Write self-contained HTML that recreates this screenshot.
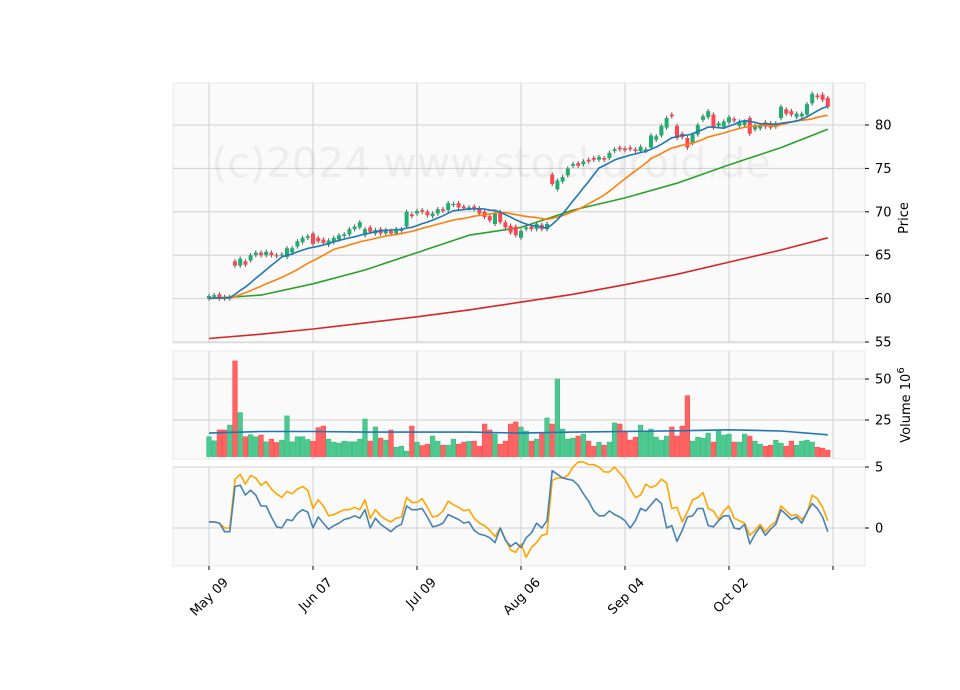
<!DOCTYPE html>
<html><head><meta charset="utf-8"><style>
body{margin:0;background:#fff;}
svg{display:block;font-family:"DejaVu Sans","Liberation Sans",sans-serif;}
</style></head><body>
<svg id="chart" width="960" height="690" viewBox="0 0 960 690" xmlns="http://www.w3.org/2000/svg">
<rect width="960" height="690" fill="#fff"/>
<g id="panels"></g>
<text x="491" y="177" font-size="41" fill="#000" fill-opacity="0.05" text-anchor="middle">(c)2024 www.stockdroid.de</text>
<g id="marks"></g>
</svg>
<script>
const xLabels=["May 09","Jun 07","Jul 09","Aug 06","Sep 04","Oct 02",""];
const xTickIdx=[0,20,40,60,80,100,120];
const priceTicks=[55,60,65,70,75,80];
const volTicks=[25,50];
const indTicks=[0,5];
const priorCloses=[60.0,60.1,59.9,60.0,60.1,60.0,59.9,60.0,60.1,60.0,59.9,60.0,60.1,60.0,59.9,60.0,60.1,60.0,60.0];
const opens=[60.0,60.2,60.5,60.2,60.0,64.3,63.8,64.3,64.4,65.0,65.3,65.0,65.3,65.0,65.0,64.8,65.3,66.0,66.5,67.0,
67.5,67.0,66.8,66.2,66.5,66.8,67.2,67.4,68.0,68.2,67.3,68.2,67.5,68.0,67.5,67.8,67.5,67.8,68.3,69.7,
69.8,70.2,70.0,69.5,69.8,70.3,70.2,70.8,71.0,70.6,70.4,70.6,70.4,70.0,69.5,68.6,70.0,68.8,68.4,68.3,
67.0,68.0,68.3,68.0,68.5,68.0,74.3,72.6,73.5,74.2,75.3,75.6,75.5,76.0,76.2,76.0,76.2,76.2,77.0,77.4,
77.3,77.4,77.2,77.0,77.0,77.4,78.3,78.8,79.7,81.2,79.9,79.0,78.5,77.9,78.9,80.6,80.9,81.2,79.9,79.8,
80.3,80.7,79.9,80.0,80.8,79.5,79.6,80.3,80.2,79.8,80.8,81.8,81.6,80.9,81.0,81.2,82.5,83.4,83.5,83.1];
const closes=[60.3,60.4,60.0,60.0,60.2,63.8,64.6,63.9,65.0,65.3,65.0,65.4,65.0,64.9,65.1,65.8,65.8,66.6,67.0,67.2,
66.3,66.6,66.4,66.7,67.0,67.3,67.4,68.0,68.3,68.8,68.0,67.7,67.9,67.5,67.9,67.5,68.0,68.0,70.0,69.5,
70.1,70.0,69.6,69.8,70.3,70.1,71.0,70.9,70.5,70.4,70.5,70.3,69.8,69.4,69.0,69.9,68.8,68.2,67.6,67.3,
67.8,68.2,68.0,68.6,68.0,68.6,73.2,73.6,74.0,75.0,75.5,75.3,75.8,75.8,76.0,76.3,76.0,76.8,77.2,77.2,
77.1,77.2,77.0,77.5,77.2,78.8,78.7,79.9,80.8,81.0,78.5,78.6,77.4,78.9,80.0,81.0,81.6,79.7,80.2,80.4,
80.9,80.5,80.4,80.4,79.0,79.9,80.0,79.8,79.7,80.2,82.1,81.3,81.2,81.3,81.3,82.4,83.6,83.2,82.9,82.1];
const volumes=[14.8,12.3,18.9,18.9,21.9,61,29.5,14.8,16,14.8,15.8,11.7,13.3,11.3,12.7,27.5,11.7,14.8,14.8,13.1,12,
20.3,21.3,13.3,11.5,10.9,12.1,11.7,11.7,13.3,25.6,12.1,20.7,13.9,12.7,18.9,8.4,9,6,21.3,11.5,
9.4,10.2,15.2,12.1,9.6,9.6,13.3,10.2,11.5,12,12.1,9,22.5,18.9,16.4,10.2,12.1,22.5,23.8,20.7,18.2,
12.1,13.3,17,26.2,22.5,50,19.5,13.3,13.9,15.2,16.4,12.1,9,11.5,9.6,11.5,23.2,22.5,18.4,12.7,
14.5,21.9,17.6,19.5,14.5,12.7,15.2,20.7,15.2,21.3,39.8,12.1,14.5,13.9,17,11.5,18.9,15.8,16.4,11.5,
11.5,16.4,15.2,12.1,10.2,9,9.6,12.7,10.9,9,12.1,9.6,12.1,12.7,11.5,8.4,7.8,6.6];
const volMA=[17,18,18,17.6,17.6,17.6,17,17.6,18,18.4,19,18.3,16];
const maGreen=[60.0,60.4,61.7,63.3,65.3,67.3,68.2,70.2,71.6,73.3,75.4,77.4,79.5];
const maRed=[55.4,55.9,56.5,57.2,57.9,58.7,59.6,60.5,61.6,62.8,64.2,65.6,67.0];
const indOrange=[0.5,0.5,0.4,0,0,4.0,4.4,3.6,4.3,4.1,3.5,3.8,3.2,2.8,2.5,3.0,2.8,3.2,3.4,3.1,
1.6,2.3,1.8,1.0,1.1,1.3,1.5,1.5,1.7,1.5,2.3,0.8,1.5,1.0,0.7,0.5,0.8,0.9,2.5,2.1,
2.1,2.4,1.7,0.9,1.0,1.4,2.2,1.9,1.7,1.4,1.5,0.8,0.4,0.2,-0.2,-0.7,0.0,-0.9,-1.8,-2.0,
-1.3,-2.4,-1.6,-1.2,-0.6,-0.5,3.9,4.1,4.1,4.3,5.0,5.4,5.4,5.2,5.2,5.0,4.6,4.6,5.0,4.5,
4.0,3.2,2.5,2.7,3.6,3.3,3.5,4.0,3.7,1.6,1.7,0.5,1.3,2.3,2.5,2.9,1.6,1.4,0.7,1.4,
1.8,0.8,0.6,0.4,-0.6,-0.2,0.3,-0.3,0.2,0.5,1.8,1.4,1.0,1.1,0.7,1.2,2.7,2.4,1.7,0.6];
const indBlue=[0.5,0.5,0.4,-0.3,-0.3,3.4,3.5,2.7,3.1,2.7,1.8,1.8,0.9,0.1,0.0,0.7,0.6,1.2,1.5,1.3,
0.0,0.9,0.4,-0.1,0.2,0.4,0.7,0.8,1.0,0.8,1.5,0.0,0.8,0.3,0.0,-0.3,0.1,0.3,1.8,1.5,
1.5,1.6,0.9,0.1,0.2,0.4,1.1,0.9,0.7,0.4,0.5,-0.2,-0.5,-0.6,-0.8,-1.2,0.0,-1.0,-1.5,-1.2,
-1.6,-0.8,-0.4,0.4,0.0,0.6,4.7,4.4,4.1,4.0,3.9,3.5,2.8,2.2,1.4,1.0,1.0,1.4,1.1,0.9,
0.6,0.0,0.6,1.6,1.4,1.9,2.4,2.0,0.0,0.2,-1.1,-0.2,0.9,1.0,1.6,1.6,0.2,0.1,0.6,1.0,
1.0,0.0,-0.1,0.3,-1.3,-0.5,0.1,-0.6,-0.1,0.3,1.5,1.1,0.7,0.9,0.4,1.3,2.0,1.6,0.9,-0.3];

const NS="http://www.w3.org/2000/svg";
const L=173,R=865;
const P={top:83,bot:343},V={top:351,bot:459},I={top:467,bot:566};
const X=i=>209+i*5.2;
const yP=v=>125+(80-v)*8.68;
const yV=v=>461-v*1.64;
const yI=v=>528-v*12.2;
const panels=document.getElementById('panels'),marks=document.getElementById('marks');
function mk(tag,attrs,parent){const e=document.createElementNS(NS,tag);for(const k in attrs)e.setAttribute(k,attrs[k]);parent.appendChild(e);return e;}
function panel(p,name){
  const r=mk('rect',{x:L,y:p.top,width:R-L,height:p.bot-p.top,fill:'#fafafa',stroke:'#eaeaea'},panels);
  
  
  xTickIdx.forEach(i=>mk('line',{x1:X(i),x2:X(i),y1:p.top,y2:p.bot,stroke:'#d0d0d0','stroke-width':1},panels));
}
panel(P,'price-panel');panel(V,'volume-panel');panel(I,'indicator-panel');
function yAxis(ticks,f,p,name){
  ticks.forEach(t=>{const y=f(t);
    mk('line',{x1:L,x2:R,y1:y,y2:y,stroke:'#d0d0d0'},panels);
    mk('line',{x1:R,x2:R+4,y1:y,y2:y,stroke:'#000'},panels);
    const tx=mk('text',{x:R+10,y:y+4.5,'font-size':13,fill:'#000'},panels);tx.textContent=t;
    
    
  });
}
yAxis(priceTicks,yP,P,'price');yAxis(volTicks,yV,V,'volume');yAxis(indTicks,yI,I,'indicator');
let t=mk('text',{x:0,y:0,'font-size':13,transform:'translate(908,218) rotate(-90)','text-anchor':'middle'},panels);t.textContent='Price';


t=mk('text',{x:0,y:0,'font-size':13,transform:'translate(910,405) rotate(-90)','text-anchor':'middle'},panels);
t.innerHTML='Volume  10<tspan dy="-6" font-size="10">6</tspan>';


xTickIdx.forEach((i,k)=>{const x=X(i);
  mk('line',{x1:x,x2:x,y1:I.bot,y2:I.bot+4,stroke:'#000'},panels);
  const tx=mk('text',{x:0,y:0,'font-size':13,'text-anchor':'end',transform:`translate(${x+20},${I.bot+17}) rotate(-45)`},panels);
  tx.textContent=xLabels[k];
  
  
});
const vg=mk('g',{'clip-path':'url(#vclip)'},marks);
const cp=mk('clipPath',{id:'vclip'},marks);mk('rect',{x:L,y:V.top,width:R-L,height:V.bot-V.top-2},cp);
volumes.forEach((v,i)=>{const up=closes[i]>=opens[i];
  const b=mk('rect',{x:X(i)-2.3,y:yV(v),width:4.6,height:Math.max(0,461-yV(v)),fill:up?'#4cc98e':'#ff6464',stroke:up?'#3dbb80':'#ff4d4d','stroke-width':0.6},vg);
  
  
});
function line(arr,fx,fy,color,w,name,parent){
  const d=arr.map((v,i)=>(i?'L':'M')+fx(i).toFixed(1)+','+fy(v).toFixed(1)).join('');
  const p=mk('path',{d,fill:'none',stroke:color,'stroke-width':w,'stroke-linejoin':'round'},parent||marks);
  
  
}
line(volMA,i=>X(i*10>119?119:i*10),yV,'#1f77b4',1.6,'volume-ma-line');
const allCloses=priorCloses.concat(closes),off=priorCloses.length;
function sma(n){return closes.map((c,i)=>{const j=i+off;const s=allCloses.slice(Math.max(0,j-n+1),j+1);return s.reduce((a,b)=>a+b,0)/s.length;});}
line(maRed,i=>X(Math.min(119,i*10)),yP,'#d62728',1.6,'ma200-line');
line(maGreen,i=>X(Math.min(119,i*10)),yP,'#2ca02c',1.6,'ma50-line');
closes.forEach((c,i)=>{const o=opens[i],up=c>=o,col=up?'#1fae6e':'#ff4550';
  const hi=Math.max(o,c)+0.25,lo=Math.min(o,c)-0.25;
  const g=mk('g',{},marks);
  
  
  mk('line',{x1:X(i),x2:X(i),y1:yP(hi),y2:yP(lo),stroke:'#555','stroke-width':1},g);
  const top=yP(Math.max(o,c)),h=Math.max(1.2,yP(Math.min(o,c))-top);
  mk('rect',{x:X(i)-2,y:top,width:4,height:h,fill:col},g);
});
line(sma(20),X,yP,'#ff7f0e',1.6,'ma20-line');
line(sma(10),X,yP,'#1f77b4',1.6,'ma10-line');
line(indOrange,X,yI,'#ffa500',1.6,'indicator-orange-line');
line(indBlue,X,yI,'#4682b4',1.6,'indicator-blue-line');
</script>
</body></html>
